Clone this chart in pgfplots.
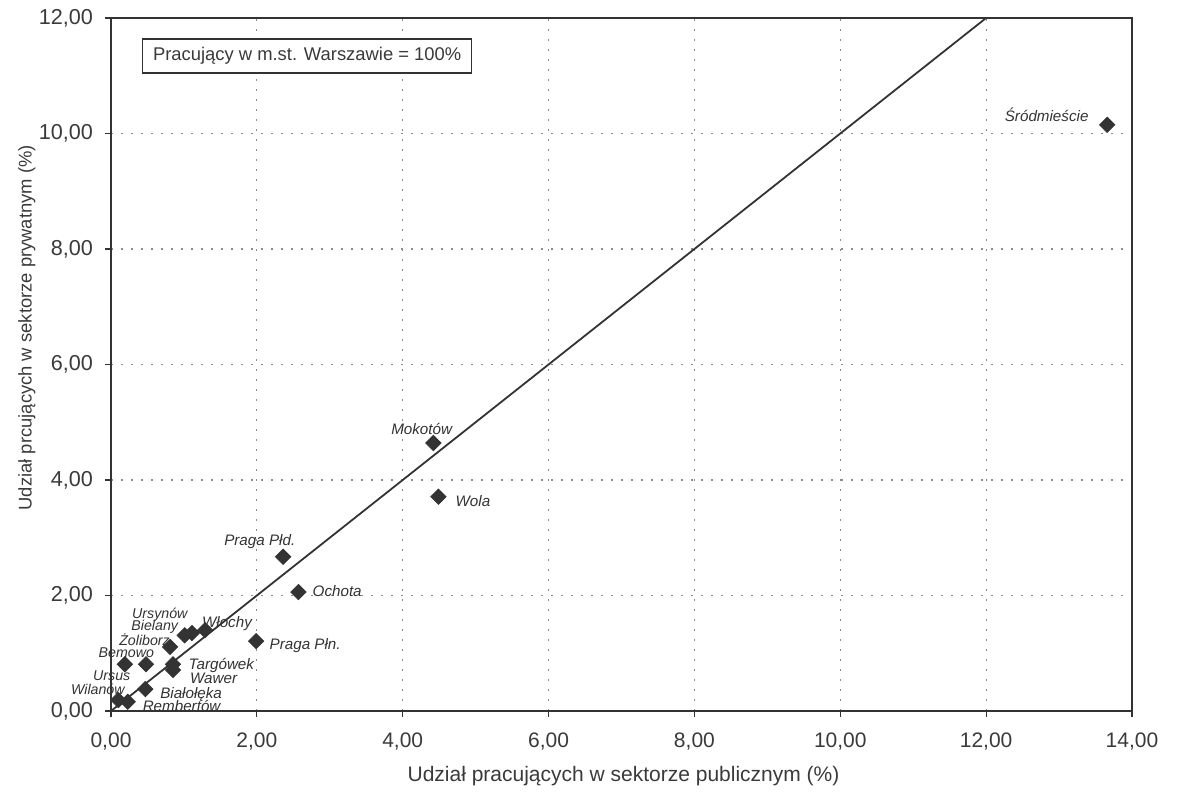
\documentclass[border=0pt]{standalone}
\usepackage{pgfplots}
\pgfplotsset{compat=1.18}
\usepackage{fontspec}
\setmainfont{Liberation Sans}
\definecolor{ink}{HTML}{333333}
\definecolor{txt}{HTML}{3A3A3A}
\definecolor{gridc}{HTML}{8A8A8A}
\begin{document}
\begin{tikzpicture}
\begin{axis}[
  at={(0,0)}, anchor=south west,
  scale only axis,
  width=510.5pt, height=346.5pt,
  xmin=0, xmax=14, ymin=0, ymax=12,
  xtick={0,2,...,14}, ytick={0,2,...,12},
  /pgf/number format/.cd, fixed, fixed zerofill, precision=2, use comma, assume math mode=true,
  /pgfplots/.cd,
  axis line style={ink, line width=0.8pt},
  tick style={ink, line width=0.6pt},
  tick align=outside, major tick length=3pt,
  xtick pos=bottom, ytick pos=left,
  grid=major,
  major grid style={gridc, line width=0.6pt, dash pattern=on 0.8pt off 4.2pt},
  xticklabel style={font=\fontsize{10.5}{12}\selectfont, text=txt, yshift=-4.5pt},
  yticklabel style={font=\fontsize{10.8}{13}\selectfont, text=txt, xshift=-2.5pt},
  xlabel={Udział pracujących w sektorze publicznym (\%)},
  ylabel={Udział prcujących w sektorze prywatnym (\%)},
  xlabel style={font=\fontsize{10.5}{12}\selectfont, text=txt, at={(axis description cs:0.502,-0.094)}, anchor=center},
  ylabel style={font=\fontsize{9.2}{11}\selectfont, text=txt, at={(axis description cs:-0.0823,0.553)}, anchor=center, rotate=0},
  clip=false,
]
\addplot[ink, line width=0.9pt, no marks] coordinates {(0,0) (12,12)};
\addplot[only marks, mark=square*, mark size=2.7pt, mark options={rotate=45, fill=ink, draw=ink}] coordinates {
  (13.66,10.15)
  (4.42,4.64)
  (4.49,3.71)
  (2.36,2.67)
  (2.57,2.06)
  (1.99,1.21)
  (0.19,0.81)
  (0.48,0.81)
  (0.81,1.11)
  (0.85,0.81)
  (0.85,0.71)
  (1.01,1.31)
  (1.11,1.35)
  (1.29,1.40)
  (0.47,0.38)
  (0.10,0.19)
  (0.23,0.16)
};
\begin{scope}[every node/.style={font=\itshape\fontsize{7.6}{9}\selectfont, text=ink, inner sep=0pt}]
\node at (axis cs:12.83,10.32) {Śródmieście};
\node at (axis cs:4.26,4.88) {Mokotów};
\node[anchor=west] at (axis cs:4.72,3.64) {Wola};
\node at (axis cs:2.04,2.93) {Praga Płd.};
\node[anchor=west] at (axis cs:2.76,2.08) {Ochota};
\node[anchor=west] at (axis cs:2.17,1.14) {Praga Płn.};
\node at (axis cs:1.59,1.52) {Włochy};
\node[anchor=west] at (axis cs:1.06,0.78) {Targówek};
\node[anchor=west] at (axis cs:1.08,0.57) {Wawer};
\node[anchor=west] at (axis cs:0.67,0.28) {Białołęka};
\node[anchor=west] at (axis cs:0.43,0.09) {Rembertów};
\end{scope}
\begin{scope}[every node/.style={font=\itshape\fontsize{7.1}{8.5}\selectfont, text=ink, inner sep=0pt}]
\node at (axis cs:0.67,1.66) {Ursynów};
\node at (axis cs:0.60,1.45) {Bielany};
\node at (axis cs:0.46,1.23) {Żoliborz};
\node at (axis cs:0.21,1.01) {Bemowo};
\node at (axis cs:0.01,0.61) {Ursus};
\node at (axis cs:-0.18,0.37) {Wilanów};
\end{scope}
\node[draw=ink, line width=0.7pt, fill=white, minimum width=164.5pt, minimum height=17pt, inner sep=2pt, font=\fontsize{9.2}{11}\selectfont, text=txt] at (axis cs:2.69,11.34) {Pracujący w m.st. Warszawie = 100\%};
\end{axis}
\pgfresetboundingbox
\path[use as bounding box] (-55.5pt,-40.5pt) rectangle (534.5pt,355.5pt);
\end{tikzpicture}
\end{document}
